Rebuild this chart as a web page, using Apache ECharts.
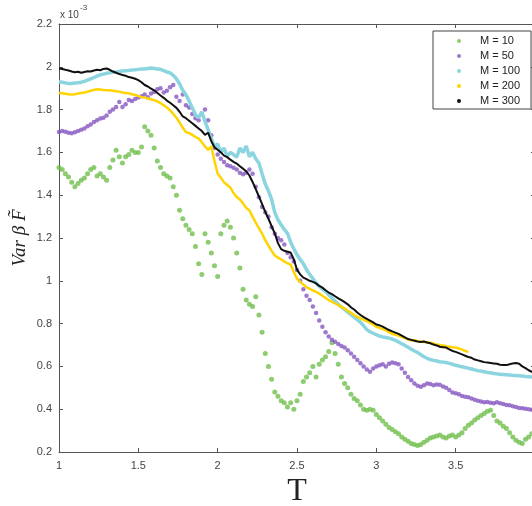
<!DOCTYPE html>
<html><head><meta charset="utf-8">
<script src="https://cdn.jsdelivr.net/npm/echarts@6/dist/echarts.min.js"></script>
<style>html,body{margin:0;padding:0;background:#fff}#c{width:532px;height:506px}</style>
</head><body><div id="c"></div>
<script>
// Temperature grid (x values)
const T = [
1.00,1.02,1.04,1.06,1.08,1.10,1.12,1.14,1.16,1.18,
1.20,1.22,1.24,1.26,1.28,1.30,1.32,1.34,1.36,1.38,
1.40,1.42,1.44,1.46,1.48,1.50,1.52,1.54,1.56,1.58,
1.60,1.62,1.64,1.66,1.68,1.70,1.72,1.74,1.76,1.78,
1.80,1.82,1.84,1.86,1.88,1.90,1.92,1.94,1.96,1.98,
2.00,2.02,2.04,2.06,2.08,2.10,2.12,2.14,2.16,2.18,
2.20,2.22,2.24,2.26,2.28,2.30,2.32,2.34,2.36,2.38,
2.40,2.42,2.44,2.46,2.48,2.50,2.52,2.54,2.56,2.58,
2.60,2.62,2.64,2.66,2.68,2.70,2.72,2.74,2.76,2.78,
2.80,2.82,2.84,2.86,2.88,2.90,2.92,2.94,2.96,2.98,
3.00,3.02,3.04,3.06,3.08,3.10,3.12,3.14,3.16,3.18,
3.20,3.22,3.24,3.26,3.28,3.30,3.32,3.34,3.36,3.38,
3.40,3.42,3.44,3.46,3.48,3.50,3.52,3.54,3.56,3.58,
3.60,3.62,3.64,3.66,3.68,3.70,3.72,3.74,3.76,3.78,
3.80,3.82,3.84,3.86,3.88,3.90,3.92,3.94,3.96,3.98,
4.00];

// Var beta F values, in units of 1e-3
const M10 = [
1.530,1.520,1.500,1.485,1.460,1.440,1.455,1.470,1.480,1.500,
1.520,1.530,1.490,1.500,1.485,1.470,1.530,1.565,1.610,1.580,
1.550,1.580,1.590,1.610,1.600,1.600,1.625,1.720,1.700,1.680,
1.620,1.560,1.530,1.500,1.490,1.480,1.440,1.400,1.330,1.290,
1.260,1.240,1.220,1.160,1.080,1.030,1.220,1.180,1.130,1.070,
1.020,1.220,1.260,1.280,1.250,1.200,1.130,1.060,0.960,0.910,
0.890,0.880,0.925,0.840,0.760,0.660,0.600,0.540,0.480,0.460,
0.440,0.430,0.410,0.430,0.400,0.440,0.470,0.530,0.550,0.570,
0.600,0.550,0.610,0.630,0.645,0.670,0.710,0.660,0.610,0.550,
0.520,0.500,0.470,0.450,0.440,0.420,0.400,0.395,0.400,0.395,
0.375,0.360,0.345,0.330,0.315,0.305,0.295,0.285,0.270,0.260,
0.250,0.240,0.235,0.230,0.235,0.245,0.255,0.265,0.270,0.275,
0.280,0.270,0.265,0.275,0.280,0.270,0.280,0.290,0.310,0.325,
0.335,0.350,0.360,0.370,0.380,0.390,0.395,0.370,0.345,0.335,
0.320,0.310,0.290,0.270,0.255,0.245,0.240,0.260,0.270,0.285,
0.290];

const M50 = [
1.695,1.700,1.696,1.692,1.690,1.694,1.700,1.706,1.712,1.722,
1.730,1.742,1.750,1.758,1.762,1.772,1.790,1.800,1.812,1.835,
1.812,1.825,1.845,1.840,1.850,1.856,1.862,1.870,1.858,1.875,
1.882,1.895,1.900,1.880,1.888,1.905,1.915,1.860,1.840,1.870,
1.820,1.810,1.780,1.760,1.750,1.780,1.800,1.750,1.680,1.620,
1.590,1.570,1.555,1.540,1.535,1.528,1.520,1.505,1.498,1.505,
1.520,1.500,1.440,1.390,1.345,1.320,1.300,1.250,1.220,1.200,
1.190,1.170,1.130,1.110,1.090,1.050,1.000,0.960,0.930,0.910,
0.880,0.850,0.815,0.785,0.760,0.740,0.725,0.715,0.705,0.695,
0.688,0.675,0.660,0.645,0.630,0.615,0.600,0.585,0.575,0.590,
0.600,0.605,0.610,0.600,0.612,0.618,0.615,0.610,0.590,0.570,
0.550,0.535,0.520,0.510,0.505,0.512,0.520,0.518,0.512,0.516,
0.514,0.506,0.500,0.490,0.478,0.474,0.470,0.462,0.458,0.456,
0.450,0.444,0.440,0.436,0.432,0.434,0.430,0.428,0.432,0.428,
0.424,0.420,0.418,0.414,0.410,0.406,0.404,0.402,0.400,0.398,
0.394];

const M100 = [
1.930,1.928,1.925,1.922,1.922,1.924,1.925,1.928,1.932,1.938,
1.944,1.950,1.956,1.962,1.966,1.970,1.972,1.975,1.976,1.978,
1.980,1.982,1.983,1.985,1.986,1.988,1.990,1.990,1.992,1.994,
1.992,1.990,1.988,1.982,1.976,1.972,1.960,1.944,1.920,1.890,
1.870,1.840,1.808,1.776,1.762,1.790,1.745,1.705,1.665,1.625,
1.640,1.600,1.620,1.582,1.600,1.590,1.578,1.620,1.600,1.630,
1.580,1.600,1.570,1.550,1.500,1.452,1.420,1.380,1.320,1.285,
1.262,1.240,1.222,1.180,1.150,1.122,1.100,1.080,1.052,1.030,
1.010,0.990,0.975,0.962,0.950,0.935,0.920,0.905,0.890,0.878,
0.866,0.854,0.842,0.830,0.818,0.806,0.790,0.772,0.762,0.755,
0.748,0.742,0.738,0.735,0.732,0.728,0.722,0.714,0.706,0.698,
0.690,0.680,0.672,0.665,0.655,0.645,0.638,0.632,0.628,0.625,
0.622,0.620,0.618,0.614,0.610,0.605,0.602,0.598,0.595,0.592,
0.588,0.584,0.580,0.578,0.575,0.572,0.570,0.567,0.565,0.563,
0.562,0.561,0.560,0.558,0.557,0.556,0.555,0.553,0.552,0.551,
0.550];

const M200 = [
1.877,1.876,1.874,1.872,1.870,1.872,1.875,1.878,1.880,1.884,
1.888,1.892,1.895,1.894,1.892,1.890,1.890,1.888,1.886,1.884,
1.880,1.878,1.876,1.872,1.868,1.864,1.858,1.856,1.852,1.848,
1.844,1.838,1.830,1.820,1.810,1.796,1.780,1.762,1.740,1.715,
1.695,1.690,1.682,1.672,1.664,1.648,1.628,1.612,1.628,1.560,
1.500,1.482,1.460,1.448,1.436,1.410,1.392,1.380,1.362,1.340,
1.330,1.300,1.272,1.246,1.220,1.190,1.165,1.140,1.118,1.108,
1.100,1.090,1.082,1.076,1.040,1.010,0.995,0.982,0.970,0.962,
0.955,0.948,0.940,0.930,0.920,0.910,0.902,0.895,0.886,0.878,
0.870,0.860,0.850,0.840,0.832,0.824,0.818,0.812,0.804,0.796,
0.785,0.780,0.775,0.768,0.760,0.752,0.748,0.744,0.738,0.732,
0.726,0.722,0.722,0.718,0.716,0.714,0.712,0.710,0.708,0.702,
0.700,0.698,0.694,0.692,0.690,0.688,0.684,0.678,0.672,0.668,
null,null,null,null,null,null,null,null,null,null,
null,null,null,null,null,null,null,null,null,null,
null];

const M300 = [
1.992,1.990,1.986,1.983,1.978,1.975,1.977,1.972,1.976,1.979,
1.978,1.983,1.986,1.984,1.990,1.992,1.986,1.978,1.972,1.966,
1.962,1.958,1.952,1.949,1.944,1.938,1.928,1.915,1.908,1.898,
1.890,1.878,1.866,1.855,1.842,1.832,1.820,1.808,1.790,1.768,
1.760,1.748,1.736,1.724,1.712,1.700,1.682,1.692,1.652,1.624,
1.612,1.600,1.585,1.578,1.566,1.556,1.548,1.535,1.524,1.512,
1.492,1.462,1.428,1.394,1.358,1.322,1.290,1.255,1.222,1.176,
1.148,1.140,1.136,1.132,1.100,1.052,1.030,1.015,1.008,1.000,
0.995,0.988,0.976,0.968,0.956,0.945,0.938,0.928,0.918,0.910,
0.900,0.890,0.876,0.866,0.852,0.840,0.830,0.822,0.814,0.806,
0.796,0.792,0.786,0.778,0.770,0.764,0.758,0.752,0.744,0.736,
0.728,0.724,0.720,0.716,0.714,0.716,0.712,0.708,0.702,0.698,
0.692,0.690,0.688,0.680,0.672,0.668,0.662,0.656,0.650,0.644,
0.640,0.632,0.628,0.624,0.620,0.618,0.616,0.614,0.612,0.608,
0.606,0.606,0.610,0.614,0.616,0.612,0.600,0.592,0.582,0.575,
0.570];

const seriesNames = ['M = 10','M = 50','M = 100','M = 200','M = 300'];
const xTitle = 'T';
const yTitle = 'Var \u03B2 F\u0303';

const pairs = arr => T.map((t, i) => [t, arr[i]]);
const fmt = v => String(+v.toFixed(1));
const axisColor = '#555';

const chart = echarts.init(document.getElementById('c'), null, {renderer: 'canvas'});
const frameAxis = {
  axisLine: {show: true, onZero: false, lineStyle: {color: axisColor, width: 1}},
  axisTick: {show: true, inside: true, length: 4, lineStyle: {color: axisColor}},
  splitLine: {show: false}
};
chart.setOption({
  animation: false,
  backgroundColor: '#fff',
  grid: {left: 59, top: 24, width: 476, height: 428, containLabel: false, outerBoundsMode: 'none'},
  xAxis: [
    Object.assign({type: 'value', min: 1, max: 4, interval: 0.5, position: 'bottom',
      axisLabel: {margin: 8, color: '#444', fontSize: 11, fontFamily: 'Liberation Sans', formatter: fmt},
      name: xTitle, nameLocation: 'middle', nameGap: 24, nameMoveOverlap: false,
      nameTextStyle: {fontFamily: 'Liberation Serif', fontSize: 32, color: '#222'}}, frameAxis),
    Object.assign({type: 'value', min: 1, max: 4, interval: 0.5, position: 'top',
      axisLabel: {show: false}}, frameAxis)
  ],
  yAxis: [
    Object.assign({type: 'value', min: 0.2, max: 2.2, interval: 0.2, position: 'left',
      axisLabel: {margin: 7, color: '#444', fontSize: 11, fontFamily: 'Liberation Sans', formatter: fmt},
      name: yTitle, nameLocation: 'middle', nameGap: 30, nameRotate: 90, nameMoveOverlap: false,
      nameTextStyle: {fontFamily: 'Liberation Serif', fontStyle: 'italic', fontSize: 19, color: '#222'}}, frameAxis),
    Object.assign({type: 'value', min: 0.2, max: 2.2, interval: 0.2, position: 'right',
      axisLabel: {show: false}}, frameAxis)
  ],
  legend: {
    left: 433, top: 31, orient: 'vertical',
    padding: [4, 11, 2, 24], itemGap: 3, itemWidth: 4, itemHeight: 4, icon: 'circle',
    borderColor: '#444', borderWidth: 1, backgroundColor: '#fff',
    textStyle: {fontSize: 11, color: '#222', fontFamily: 'Liberation Sans', lineHeight: 12, padding: [0, 0, 0, 14]},
    data: seriesNames
  },
  graphic: [
    {type: 'text', left: 60, top: 10, style: {text: 'x 10', fontSize: 10, fill: '#444', fontFamily: 'Liberation Sans'}},
    {type: 'text', left: 80, top: 4, style: {text: '-3', fontSize: 8, fill: '#444', fontFamily: 'Liberation Sans'}}
  ],
  series: [
    {name: seriesNames[0], type: 'scatter', data: pairs(M10), symbolSize: 5,
      itemStyle: {color: '#70bf4c'}, silent: true},
    {name: seriesNames[1], type: 'scatter', data: pairs(M50), symbolSize: 4.5,
      itemStyle: {color: '#8658c0'}, silent: true},
    {name: seriesNames[2], type: 'line', data: pairs(M100), showSymbol: false,
      lineStyle: {width: 3.5, color: '#8ad5df'}, itemStyle: {color: '#8ad5df'}, silent: true},
    {name: seriesNames[3], type: 'line', data: pairs(M200), showSymbol: false, connectNulls: false,
      lineStyle: {width: 2.5, color: '#ffd400'}, itemStyle: {color: '#ffd400'}, silent: true},
    {name: seriesNames[4], type: 'line', data: pairs(M300), showSymbol: false,
      lineStyle: {width: 2, color: '#111'}, itemStyle: {color: '#111'}, silent: true}
  ]
});
</script>
</body></html>
